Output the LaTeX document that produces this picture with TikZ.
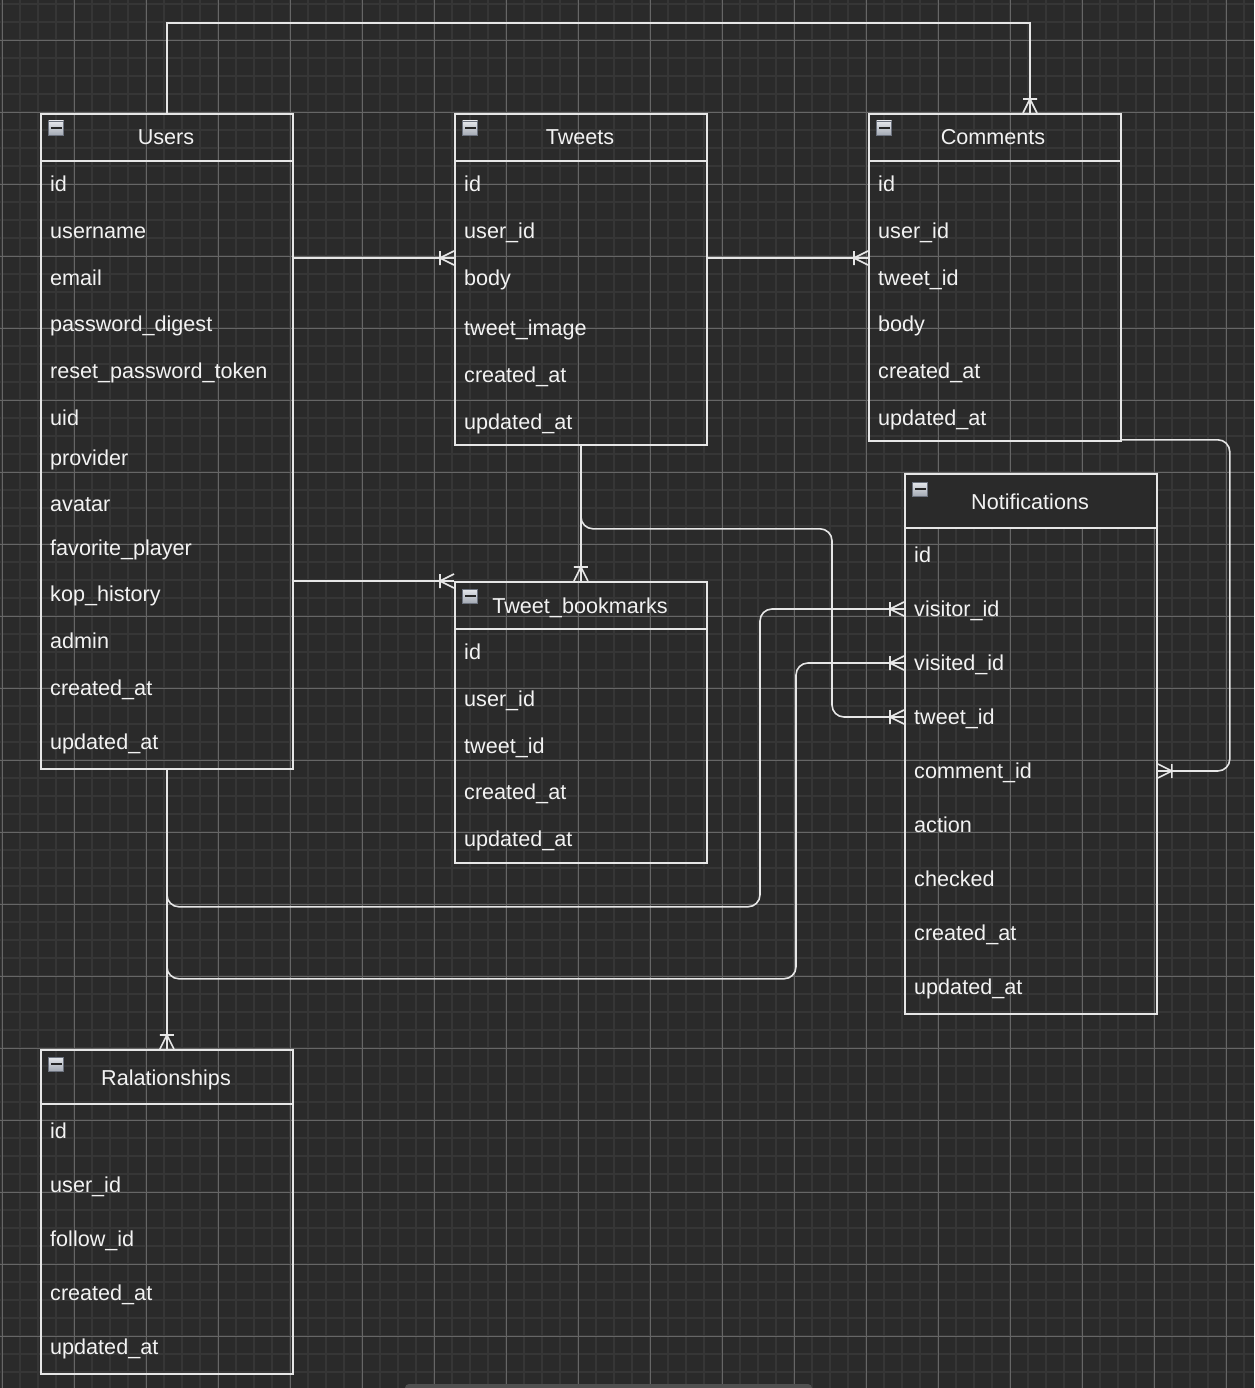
\documentclass[tikz,border=0pt]{standalone}
\usepackage{fontspec}
\setmainfont{Liberation Sans}
\usetikzlibrary{calc}
\definecolor{bg}{HTML}{2A2A2A}
\definecolor{gminor}{HTML}{363636}
\definecolor{gmajor}{HTML}{666666}
\definecolor{fg}{HTML}{F2F2F2}
\definecolor{edgec}{HTML}{E6E6E6}
\definecolor{icontop}{HTML}{E6E8EC}
\definecolor{iconbot}{HTML}{A4AAB4}
\definecolor{iconrim}{HTML}{6C727E}
\tikzset{
  erbox/.style={draw=edgec, line width=1.8pt, inner sep=0pt, anchor=north west},
  txt/.style={text=fg, font=\fontsize{21.6}{26}\selectfont, inner sep=0pt},
  conn/.style={draw=edgec, line width=1.6pt},
  icon/.style={draw=iconrim, line width=0.7pt, minimum width=15pt, minimum height=14pt, inner sep=0pt,
    top color=icontop, bottom color=iconbot,
    path picture={\fill[black!85] ($(path picture bounding box.center)+(-5.5,-1.3)$) rectangle ($(path picture bounding box.center)+(5.5,1.3)$);}},
  crow/.pic={\draw[conn] (-14,-7) -- (-14,7) (-14,0) -- (0,-7) (-14,0) -- (0,7);}
}
\begin{document}
\begin{tikzpicture}[x=1pt,y=-1pt]
\useasboundingbox (0,0) rectangle (1254,1388);
\fill[bg] (0,0) rectangle (1254,1388);
% grid
\foreach \i in {0,...,69} \draw[gminor, line width=1.8pt] ({2+18*\i},0) -- ++(0,1388);
\foreach \i in {0,...,76} \draw[gminor, line width=1.8pt] (0,{4+18*\i}) -- ++(1254,0);
\foreach \i in {0,...,17} \draw[gmajor, line width=0.9pt] ({2+72*\i},0) -- ++(0,1388);
\foreach \i in {0,...,18} \draw[gmajor, line width=0.9pt] (0,{40+72*\i}) -- ++(1254,0);
% scroll bar
\fill[rounded corners=4pt, fill=gray!45!bg] (405,1384) rectangle (812,1394);

% ---------- Users ----------
\node[erbox, minimum width=252pt, minimum height=655pt] (users) at (40,113) {};
\node[erbox, minimum width=252pt, minimum height=47pt] (users-h) at (40,113) {};
\node[icon] (users-i) at (56,128) {};
\node[txt, anchor=base] (users-t) at (166,145) {Users};
\foreach \t/\yy [count=\n] in {id/184, username/231, email/278, password\_digest/324, reset\_password\_token/371, uid/418, provider/458, avatar/504, favorite\_player/548, kop\_history/594, admin/641, created\_at/688, updated\_at/742}
  \node[txt, anchor=base west] (users-\n) at (50,{\yy+7.5}) {\t};

% ---------- Tweets ----------
\node[erbox, minimum width=252pt, minimum height=331pt] (tweets) at (454,113) {};
\node[erbox, minimum width=252pt, minimum height=47pt] (tweets-h) at (454,113) {};
\node[icon] (tweets-i) at (470,128) {};
\node[txt, anchor=base] (tweets-t) at (580,145) {Tweets};
\foreach \t/\yy [count=\n] in {id/184, user\_id/231, body/278, tweet\_image/328, created\_at/375, updated\_at/422}
  \node[txt, anchor=base west] (tweets-\n) at (464,{\yy+7.5}) {\t};

% ---------- Comments ----------
\node[erbox, minimum width=252pt, minimum height=327pt] (comments) at (868,113) {};
\node[erbox, minimum width=252pt, minimum height=47pt] (comments-h) at (868,113) {};
\node[icon] (comments-i) at (884,128) {};
\node[txt, anchor=base] (comments-t) at (993,145) {Comments};
\foreach \t/\yy [count=\n] in {id/184, user\_id/231, tweet\_id/278, body/324, created\_at/371, updated\_at/418}
  \node[txt, anchor=base west] (comments-\n) at (878,{\yy+7.5}) {\t};

% ---------- Notifications ----------
\node[erbox, minimum width=252pt, minimum height=540pt] (notif) at (904,473) {};
\node[erbox, fill=bg, minimum width=252pt, minimum height=54pt] (notif-h) at (904,473) {};
\node[icon] (notif-i) at (920,489) {};
\node[txt, anchor=base] (notif-t) at (1030,509) {Notifications};
\foreach \t/\yy [count=\n] in {id/555, visitor\_id/609, visited\_id/663, tweet\_id/717, comment\_id/771, action/825, checked/879, created\_at/933, updated\_at/987}
  \node[txt, anchor=base west] (notif-\n) at (914,{\yy+7.5}) {\t};

% ---------- Tweet_bookmarks ----------
\node[erbox, minimum width=252pt, minimum height=281pt] (bm) at (454,581) {};
\node[erbox, minimum width=252pt, minimum height=47pt] (bm-h) at (454,581) {};
\node[icon] (bm-i) at (470,596) {};
\node[txt, anchor=base] (bm-t) at (580,613) {Tweet\_bookmarks};
\foreach \t/\yy [count=\n] in {id/652, user\_id/699, tweet\_id/746, created\_at/792, updated\_at/839}
  \node[txt, anchor=base west] (bm-\n) at (464,{\yy+7.5}) {\t};

% ---------- Ralationships ----------
\node[erbox, minimum width=252pt, minimum height=324pt] (rel) at (40,1049) {};
\node[erbox, minimum width=252pt, minimum height=54pt] (rel-h) at (40,1049) {};
\node[icon] (rel-i) at (56,1064) {};
\node[txt, anchor=base] (rel-t) at (166,1085) {Ralationships};
\foreach \t/\yy [count=\n] in {id/1131, user\_id/1185, follow\_id/1239, created\_at/1293, updated\_at/1347}
  \node[txt, anchor=base west] (rel-\n) at (50,{\yy+7.5}) {\t};

% ---------- connection points ----------
\coordinate (c-top) at ($(comments.north west)+(162,0)$);
\coordinate (tw-in) at ($(tweets.north west)+(0,145)$);
\coordinate (us-out) at ($(users.north east)+(0,145)$);
\coordinate (tw-out) at ($(tweets.north east)+(0,145)$);
\coordinate (cm-in) at ($(comments.north west)+(0,145)$);
\coordinate (n-vr) at ($(notif.north west)+(0,136)$);
\coordinate (n-vd) at ($(notif.north west)+(0,190)$);
\coordinate (n-tw) at ($(notif.north west)+(0,244)$);
\coordinate (n-cm) at ($(notif.north east)+(0,298)$);
\coordinate (cm-out) at ($(comments.south east)+(0,-2)$);

% ---------- connectors ----------
\draw[conn] (users.north) -- ++(0,-90) -| (c-top);
\draw[conn] (us-out) -- (tw-in);
\draw[conn] (tw-out) -- (cm-in);
\draw[conn] (users.east |- bm.north west) -- (bm.north west);
\draw[conn] (tweets.south) -- (bm.north);
\draw[conn, rounded corners=12pt] (tweets.south) -- ++(0,83) -| ($(n-tw)+(-72,0)$) -- (n-tw);
\draw[conn, rounded corners=12pt] (users.south) -- ++(0,137) -| ($(n-vr)+(-144,0)$) -- (n-vr);
\draw[conn, rounded corners=12pt] (users.south) -- ++(0,209) -| ($(n-vd)+(-108,0)$) -- (n-vd);
\draw[conn] (users.south) -- (rel.north);
\draw[conn, rounded corners=12pt] (cm-out) -- ++(108,0) |- (n-cm);

% ---------- crow's feet ----------
\pic[rotate=-90] at (c-top) {crow};
\pic at (tw-in) {crow};
\pic at (cm-in) {crow};
\pic at (bm.north west) {crow};
\pic[rotate=-90] at (bm.north) {crow};
\pic at (n-vr) {crow};
\pic at (n-vd) {crow};
\pic at (n-tw) {crow};
\pic[rotate=-90] at (rel.north) {crow};
\pic[rotate=180] at (n-cm) {crow};
\end{tikzpicture}
\end{document}
